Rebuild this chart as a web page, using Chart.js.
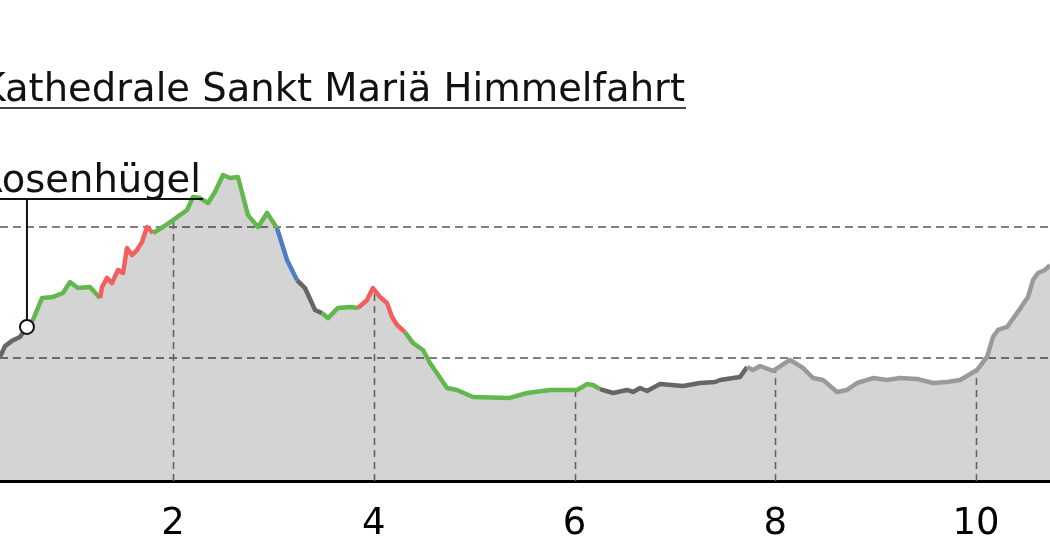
<!DOCTYPE html>
<html>
<head>
<meta charset="utf-8">
<script src="https://cdn.jsdelivr.net/npm/chart.js@4/dist/chart.umd.min.js"></script>
<style>
  body { margin: 0; background: #fff; }
  canvas { display: block; }
</style>
</head>
<body>
<canvas id="chart" width="1050" height="560"></canvas>
<script>
// distance along the route (km)
var distance = [
  0.20, 0.276, 0.326, 0.396, 0.476, 0.545, 0.605, 0.695, 0.805, 0.904,
  0.974, 1.053, 1.173, 1.273, 1.293, 1.343, 1.392, 1.452, 1.502, 1.542,
  1.591, 1.641, 1.691, 1.741, 1.801, 1.900, 2.000, 2.140, 2.199, 2.269,
  2.349, 2.418, 2.498, 2.568, 2.647, 2.747, 2.847, 2.937, 3.036, 3.136,
  3.235, 3.315, 3.415, 3.484, 3.544, 3.644, 3.764, 3.843, 3.933, 3.992,
  4.062, 4.132, 4.182, 4.232, 4.311, 4.391, 4.491, 4.560, 4.730, 4.829,
  4.989, 5.357, 5.527, 5.756, 6.025, 6.124, 6.184, 6.254, 6.384, 6.523,
  6.583, 6.653, 6.722, 6.852, 7.081, 7.250, 7.400, 7.450, 7.579, 7.649,
  7.719, 7.778, 7.848, 7.978, 8.147, 8.277, 8.376, 8.476, 8.615, 8.715,
  8.815, 8.974, 9.114, 9.243, 9.413, 9.572, 9.711, 9.841, 10.010, 10.110,
  10.169, 10.219, 10.309, 10.408, 10.518, 10.568, 10.617, 10.687, 10.737, 10.80
];

// elevation (m)
var elevation = [
  597, 600.7, 609, 613, 616, 623.6, 629, 645.7, 646.5, 649.5,
  657.9, 653.3, 654.1, 645.7, 654.1, 661, 657.1, 667.1, 664.8, 683.9,
  678.5, 682.3, 688.4, 699.9, 695.3, 699.9, 705.2, 712.9, 722.8, 722,
  718.2, 726.6, 739.6, 737.3, 738.1, 709, 699.9, 710.6, 699.1, 674.7,
  659.4, 653.3, 636.5, 634.2, 630.4, 638.1, 638.8, 638.1, 644.2, 653.3,
  646.5, 641.9, 631.2, 625.1, 619.7, 611.3, 606, 596.1, 577, 575.5,
  570.1, 569.4, 573.2, 575.5, 575.5, 580, 579.3, 576.2, 573.2, 575.5,
  574, 577, 574.7, 580, 578.5, 580.8, 581.6, 583.1, 584.6, 585.4,
  593, 590.7, 593.8, 590, 598.4, 592.3, 584.6, 583.1, 574, 575.5,
  580.8, 584.6, 583.1, 584.6, 583.9, 580.8, 581.6, 583.1, 590.7, 600.7,
  615.9, 621.3, 623.6, 634.2, 646.5, 659.4, 664.8, 667.1, 670.9, 675
];

// surface sections: start km and kind
var sectionStart = [0.20, 0.545, 1.273, 1.80, 3.036, 3.235, 3.484, 3.843, 4.311, 6.254, 7.719];
var sectionKind  = ['unknown', 'asphalt', 'gravel', 'asphalt', 'path', 'unknown', 'asphalt', 'gravel', 'asphalt', 'unknown', 'unmapped'];

var xTicks = [2, 4, 6, 8, 10];
var yGrid = [600, 700];

var landmarks = ['Kathedrale Sankt Mariä Himmelfahrt', 'Rosenhügel'];
var rosenKm = 0.545;
var rosenElev = 623.6;

var kindColor = {
  asphalt: '#62b84c',
  gravel: '#f35e5e',
  path: '#4a7fc6',
  unknown: '#666666',
  unmapped: '#9a9a9a'
};

function kindAt(km) {
  var k = sectionKind[0];
  for (var i = 0; i < sectionStart.length; i++) {
    if (km >= sectionStart[i] - 1e-6) k = sectionKind[i];
  }
  return k;
}

function elevAt(km) {
  for (var i = 1; i < distance.length; i++) {
    if (distance[i] >= km) {
      var t = (km - distance[i - 1]) / (distance[i] - distance[i - 1]);
      return elevation[i - 1] + t * (elevation[i] - elevation[i - 1]);
    }
  }
  return elevation[elevation.length - 1];
}

var points = distance.map(function(d, i) {
  return { x: d, y: elevation[i] };
});

var FONT = 'DejaVu Sans';

// vertical dashed lines under the profile
var dropLines = {
  id: 'dropLines',
  beforeDatasetsDraw: function(chart) {
    var ctx = chart.ctx, xs = chart.scales.x, ys = chart.scales.y;
    ctx.save();
    ctx.strokeStyle = '#777';
    ctx.lineWidth = 1.6;
    ctx.setLineDash([7, 5]);
    xTicks.forEach(function(t) {
      var px = Math.round(xs.getPixelForValue(t)) + 0.5;
      ctx.beginPath();
      ctx.moveTo(px, ys.bottom);
      ctx.lineTo(px, ys.getPixelForValue(elevAt(t)));
      ctx.stroke();
    });
    ctx.restore();
  }
};

// landmark labels
var labels = {
  id: 'labels',
  afterDraw: function(chart) {
    var ctx = chart.ctx, xs = chart.scales.x, ys = chart.scales.y;
    ctx.save();
    ctx.font = '38.5px "' + FONT + '"';
    ctx.fillStyle = '#111';
    ctx.textAlign = 'right';
    ctx.textBaseline = 'alphabetic';

    ctx.fillText(landmarks[0], 685, 101);
    ctx.strokeStyle = '#444';
    ctx.lineWidth = 2;
    ctx.beginPath();
    ctx.moveTo(0, 108);
    ctx.lineTo(686, 108);
    ctx.stroke();

    ctx.fillText(landmarks[1], 201, 192);
    ctx.strokeStyle = '#111';
    ctx.beginPath();
    ctx.moveTo(0, 199);
    ctx.lineTo(203, 199);
    ctx.stroke();

    var px = xs.getPixelForValue(rosenKm);
    var py = ys.getPixelForValue(rosenElev);
    ctx.beginPath();
    ctx.moveTo(px, 199);
    ctx.lineTo(px, py - 7);
    ctx.stroke();
    ctx.beginPath();
    ctx.arc(px, py, 7, 0, Math.PI * 2);
    ctx.fillStyle = '#fff';
    ctx.fill();
    ctx.lineWidth = 2;
    ctx.stroke();
    ctx.restore();
  }
};

var chart = new Chart('chart', {
  type: 'line',
  data: {
    datasets: [
      {
        // coloured profile line
        data: points,
        fill: false,
        borderWidth: 4.5,
        borderColor: '#666',
        borderJoinStyle: 'round',
        pointRadius: 0,
        tension: 0,
        segment: {
          borderColor: function(c) {
            return kindColor[kindAt(c.p0.parsed.x)];
          }
        }
      },
      {
        // grey area under the profile
        data: points,
        fill: 'start',
        backgroundColor: 'rgba(0,0,0,0.17)',
        borderWidth: 0,
        pointRadius: 0,
        tension: 0
      }
    ]
  },
  options: {
    responsive: false,
    animation: false,
    layout: { padding: 0 },
    plugins: {
      legend: { display: false },
      tooltip: { enabled: false }
    },
    scales: {
      x: {
        type: 'linear',
        min: 0.2765,
        max: 10.737,
        afterBuildTicks: function(s) {
          s.ticks = xTicks.map(function(v) { return { value: v }; });
        },
        afterFit: function(s) { s.height = 79; },
        grid: { display: false, drawTicks: false },
        border: { display: true, color: '#000', width: 3 },
        ticks: {
          color: '#000',
          padding: 21,
          maxRotation: 0,
          font: { family: FONT, size: 37 }
        }
      },
      y: {
        min: 506,
        max: 873.2,
        afterBuildTicks: function(s) {
          s.ticks = yGrid.map(function(v) { return { value: v }; });
        },
        afterFit: function(s) { s.width = 0; },
        grid: { color: '#808080', lineWidth: 2, drawTicks: false },
        border: { display: false, dash: [8, 5] },
        ticks: { display: false }
      }
    }
  },
  plugins: [dropLines, labels]
});
</script>
</body>
</html>
